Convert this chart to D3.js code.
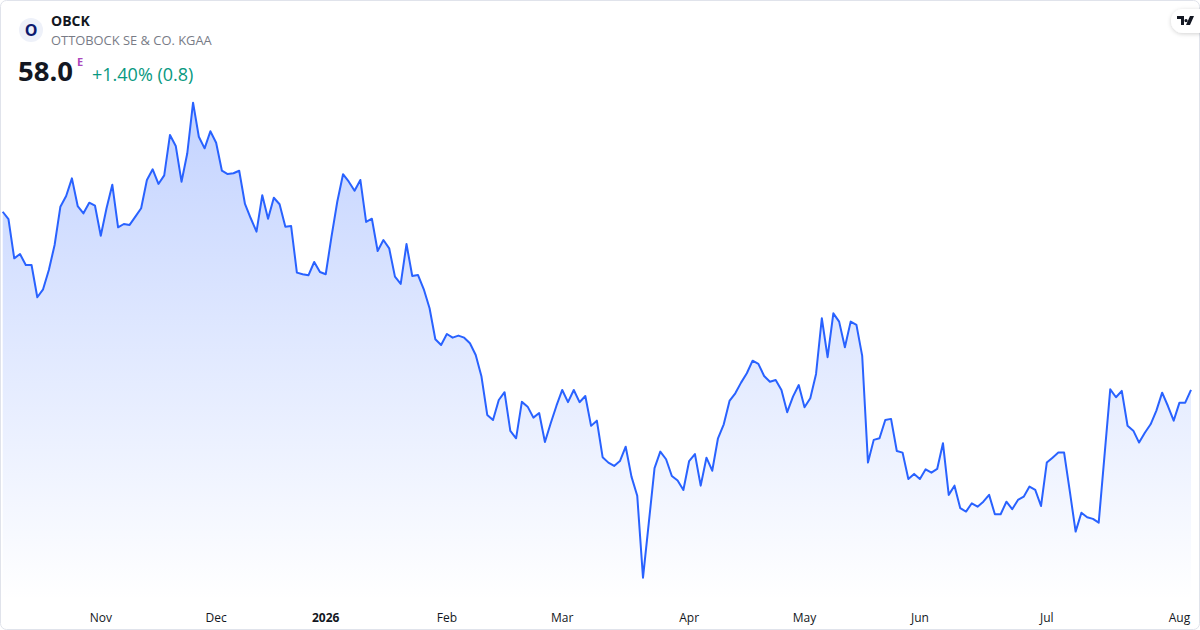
<!DOCTYPE html>
<html>
<head>
<meta charset="utf-8">
<title>OBCK</title>
<style>
  html, body { margin: 0; padding: 0; background: #fff; }
  svg { display: block; font-family: "Open Sans", Roboto, sans-serif; }
  .tick-label { font-size: 12px; fill: #131722; text-anchor: middle; }
</style>
</head>
<body>
<svg id="chart" width="1200" height="630"></svg>
<script src="https://cdn.jsdelivr.net/npm/d3@7/dist/d3.min.js"></script>
<script>
// daily closes, 9 Oct 2025 .. 5 Aug 2026 (trading days)
var prices = [
  69.21, 68.74, 66.28, 66.55, 65.86, 65.86, 63.83, 64.33, 65.55, 67.12,
  69.53, 70.20, 71.31, 69.57, 69.11, 69.78, 69.59, 67.70, 69.43, 70.91,
  68.23, 68.44, 68.38, 68.90, 69.43, 71.21, 71.88, 70.96, 71.50, 74.04,
  73.35, 71.10, 72.89, 76.07, 73.93, 73.20, 74.27, 73.55, 71.79, 71.58,
  71.63, 71.79, 69.70, 68.80, 67.96, 70.25, 68.77, 70.09, 69.68, 68.27,
  68.31, 65.38, 65.28, 65.21, 66.05, 65.42, 65.28, 67.64, 69.84, 71.57,
  71.10, 70.53, 71.21, 68.57, 68.77, 66.74, 67.43, 66.91, 65.13, 64.67,
  67.18, 65.17, 65.23, 64.33, 63.14, 61.19, 60.83, 61.52, 61.29, 61.42,
  61.29, 60.94, 60.20, 58.84, 56.43, 56.11, 57.37, 57.86, 55.42, 54.96,
  57.25, 56.95, 56.26, 56.55, 54.73, 55.91, 57.01, 58.00, 57.23, 58.00,
  57.23, 57.62, 55.74, 56.07, 53.77, 53.43, 53.22, 53.53, 54.43, 52.55,
  51.35, 46.19, 49.62, 53.08, 54.12, 53.64, 52.59, 52.30, 51.71, 53.53,
  53.97, 51.98, 53.74, 52.92, 54.96, 55.84, 57.31, 57.79, 58.46, 59.05,
  59.84, 59.64, 58.88, 58.52, 58.63, 58.00, 56.60, 57.58, 58.31, 56.91,
  57.48, 59.01, 62.51, 60.06, 62.82, 62.30, 60.69, 62.30, 62.09, 60.14,
  53.43, 54.86, 54.96, 56.11, 56.18, 54.16, 54.06, 52.40, 52.72, 52.40,
  53.01, 52.80, 53.03, 54.65, 51.40, 51.98, 50.56, 50.35, 50.87, 50.66,
  50.97, 51.40, 50.18, 50.18, 50.97, 50.50, 51.08, 51.29, 51.92, 51.71,
  50.70, 53.43, 53.74, 54.06, 54.06, 51.60, 49.09, 50.28, 49.99, 49.89,
  49.65, 53.85, 58.04, 57.54, 57.94, 55.75, 55.44, 54.69, 55.31, 55.84,
  56.70, 57.83, 56.99, 56.07, 57.20, 57.20, 58.00
];

// first trading day of each month (index into prices)
var tickIndex = [17, 37, 56, 77, 97, 119, 139, 159, 181, 204];
var tickLabels = ["Nov", "Dec", "2026", "Feb", "Mar", "Apr", "May", "Jun", "Jul", "Aug"];

var symbol = "OBCK";
var company = "OTTOBOCK SE & CO. KGAA";
var lastPrice = "58.0";
var change = "+1.40% (0.8)";

var width = 1200;
var height = 630;
var svg = d3.select("#chart");

var x = d3.scaleLinear()
    .domain([0, prices.length - 1])
    .range([2.7, 1191]);

var y = d3.scaleLinear()
    .domain(d3.extent(prices))
    .range([577.7, 102.7]);

var bottom = 600;

// gradient under the line
var defs = svg.append("defs");
var grad = defs.append("linearGradient")
    .attr("id", "fillGrad")
    .attr("x1", 0).attr("y1", 0).attr("x2", 0).attr("y2", 1);
grad.append("stop").attr("offset", "0%").attr("stop-color", "#2962ff").attr("stop-opacity", 0.28);
grad.append("stop").attr("offset", "100%").attr("stop-color", "#2962ff").attr("stop-opacity", 0.0);

var shadow = defs.append("filter").attr("id", "shadow")
    .attr("x", "-50%").attr("y", "-50%").attr("width", "200%").attr("height", "200%");
shadow.append("feDropShadow")
    .attr("dx", 0).attr("dy", 1).attr("stdDeviation", 2)
    .attr("flood-color", "#000").attr("flood-opacity", 0.18);

var area = d3.area()
    .x(function(d, i) { return x(i); })
    .y0(bottom)
    .y1(function(d) { return y(d); });

var line = d3.line()
    .x(function(d, i) { return x(i); })
    .y(function(d) { return y(d); });

svg.append("path")
    .datum(prices)
    .attr("d", area)
    .attr("fill", "url(#fillGrad)");

svg.append("path")
    .datum(prices)
    .attr("d", line)
    .attr("fill", "none")
    .attr("stroke", "#2962ff")
    .attr("stroke-width", 2)
    .attr("stroke-linejoin", "round");

// month labels
svg.selectAll(".tick-label")
    .data(tickIndex)
    .enter()
    .append("text")
    .attr("class", "tick-label")
    .attr("x", function(d) { return x(d); })
    .attr("y", 622)
    .style("font-weight", function(d, i) { return tickLabels[i] === "2026" ? "bold" : "normal"; })
    .text(function(d, i) { return tickLabels[i]; });

// frame
svg.append("rect")
    .attr("x", 0.5).attr("y", 0.5)
    .attr("width", width - 1).attr("height", height - 1)
    .attr("rx", 6)
    .attr("fill", "none")
    .attr("stroke", "#e0e3eb");

// header
svg.append("circle")
    .attr("cx", 31).attr("cy", 30).attr("r", 12)
    .attr("fill", "#eef1f9");
svg.append("text")
    .attr("x", 31).attr("y", 36)
    .attr("text-anchor", "middle")
    .attr("font-size", 16).attr("font-weight", "bold")
    .attr("fill", "#0d1a6e")
    .text("O");

svg.append("text")
    .attr("x", 51).attr("y", 26)
    .attr("font-size", 14).attr("font-weight", "bold")
    .attr("fill", "#131722")
    .text(symbol);

svg.append("text")
    .attr("x", 51).attr("y", 45)
    .attr("font-size", 12.9)
    .attr("fill", "#787b86")
    .text(company);

svg.append("text")
    .attr("x", 18).attr("y", 81)
    .attr("font-size", 27.5).attr("font-weight", "bold")
    .attr("fill", "#131722")
    .text(lastPrice);

svg.append("text")
    .attr("x", 77).attr("y", 66)
    .attr("font-size", 11).attr("font-weight", "bold")
    .attr("fill", "#ab47bc")
    .text("E");

svg.append("text")
    .attr("x", 92).attr("y", 81)
    .attr("font-size", 18)
    .attr("fill", "#089981")
    .text(change);

// TradingView badge
var badge = svg.append("g").attr("transform", "translate(1171,9)");
badge.append("rect")
    .attr("width", 40).attr("height", 24).attr("rx", 12)
    .attr("fill", "#fff")
    .attr("filter", "url(#shadow)");
badge.append("path")
    .attr("d", "M6 7h7v9h-3v-6h-4z M15 10a1.6 1.6 0 1 0 0.01 0z M19 7h4l-4 9h-4z")
    .attr("fill", "#131722");
</script>
</body>
</html>
